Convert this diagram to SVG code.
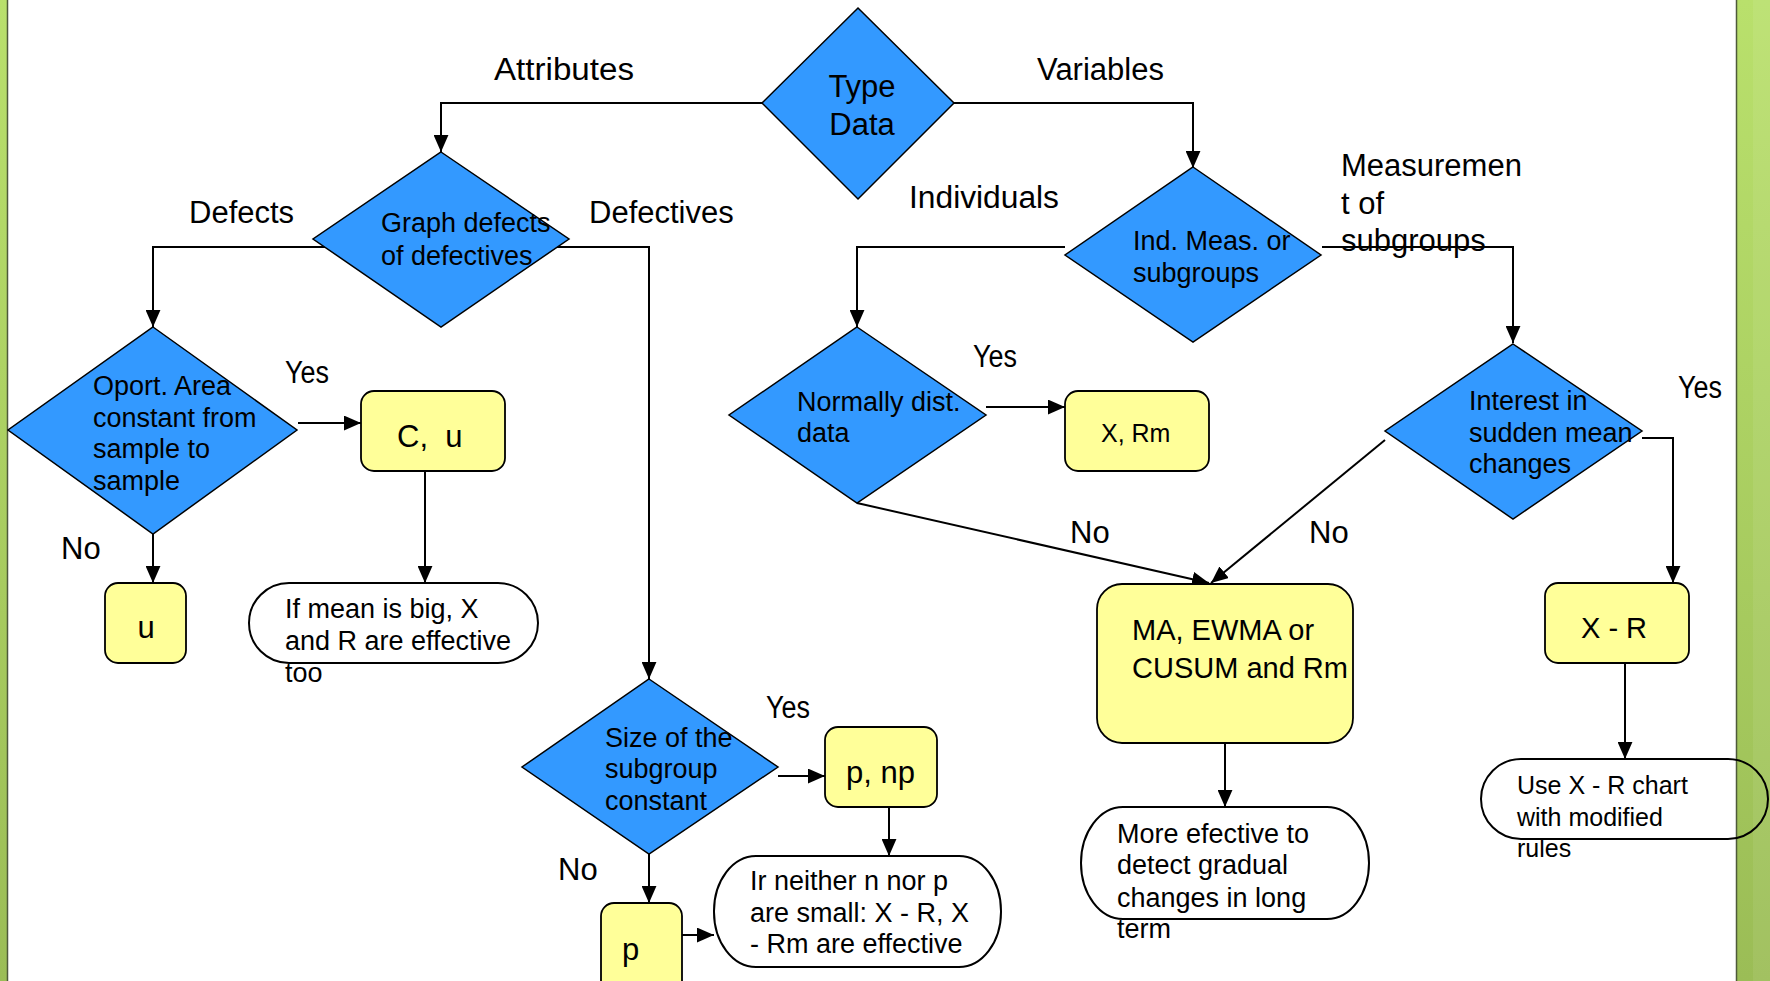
<svg xmlns="http://www.w3.org/2000/svg" width="1770" height="981" viewBox="0 0 1770 981">
<style>
text{font-family:"Liberation Sans",Arial,sans-serif;fill:#000}
.lbl{font-size:31px}
.dt{font-size:27px}
.bt{font-size:28px}
.st{font-size:27px}
.dia{fill:#3399FF;stroke:#000;stroke-width:1.5}
.box{fill:#FFFF99;stroke:#000;stroke-width:1.8}
.stad{fill:none;stroke:#000;stroke-width:2}
.con{fill:none;stroke:#000;stroke-width:2;marker-end:url(#arr)}
</style>
<defs>
<marker id="arr" viewBox="0 0 16 14" refX="16" refY="7" markerWidth="17" markerHeight="15" markerUnits="userSpaceOnUse" orient="auto">
<path d="M0,0 L16,7 L0,14 z" fill="#000"/>
</marker>
<linearGradient id="grn" x1="0" y1="0" x2="0" y2="1">
<stop offset="0" stop-color="#B9E06C"/>
<stop offset="1" stop-color="#9BBD56"/>
</linearGradient>
</defs>
<rect x="0" y="0" width="1770" height="981" fill="#fff"/>
<g id="background">
<rect x="0" y="0" width="8" height="981" fill="url(#grn)"/>
<line x1="7.5" y1="0" x2="7.5" y2="981" stroke="#4E5A3A" stroke-width="1.5"/>
<rect x="1736" y="0" width="34" height="981" fill="url(#grn)"/>
<rect x="1753" y="0" width="17" height="981" fill="#fff" opacity="0.07"/>
<line x1="1736.5" y1="0" x2="1736.5" y2="981" stroke="#4E5A3A" stroke-width="1.5"/>
</g>
<g id="connectors">
<path class="con" d="M762,103 H441 V152"/>
<path class="con" d="M954,103 H1193 V168"/>
<path class="con" d="M329,247 H153 V327"/>
<path class="con" d="M555,247 H649 V679"/>
<path class="con" d="M1065,247 H857 V327"/>
<path class="con" d="M1322,247 H1513 V343"/>
<path class="con" d="M298,423 H361"/>
<path class="con" d="M153,534 V583"/>
<path class="con" d="M425,471 V583"/>
<path class="con" d="M986,407 H1065"/>
<path class="con" d="M857,503 L1209,583"/>
<path class="con" d="M1385,440 L1211,583"/>
<path class="con" d="M1642,438 H1673 V583"/>
<path class="con" d="M1225,743 V807"/>
<path class="con" d="M1625,663 V759"/>
<path class="con" d="M778,776 H825"/>
<path class="con" d="M649,854 V903"/>
<path class="con" d="M889,807 V856"/>
<path class="con" d="M682,935 H714"/>
</g>
<g id="labels">
<text class="lbl" x="494" y="80" textLength="140" lengthAdjust="spacingAndGlyphs">Attributes</text>
<text class="lbl" x="1037" y="80">Variables</text>
<text class="lbl" x="189" y="223">Defects</text>
<text class="lbl" x="589" y="223">Defectives</text>
<text class="lbl" x="909" y="208" textLength="150" lengthAdjust="spacingAndGlyphs">Individuals</text>
<text class="lbl" x="1341" y="176">Measuremen</text>
<text class="lbl" x="1341" y="214">t of</text>
<text class="lbl" x="1341" y="251">subgroups</text>
<text class="lbl" x="285" y="383" textLength="44" lengthAdjust="spacingAndGlyphs">Yes</text>
<text class="lbl" x="61" y="559">No</text>
<text class="lbl" x="973" y="367" textLength="44" lengthAdjust="spacingAndGlyphs">Yes</text>
<text class="lbl" x="1070" y="543">No</text>
<text class="lbl" x="1309" y="543">No</text>
<text class="lbl" x="1678" y="398" textLength="44" lengthAdjust="spacingAndGlyphs">Yes</text>
<text class="lbl" x="766" y="718" textLength="44" lengthAdjust="spacingAndGlyphs">Yes</text>
<text class="lbl" x="558" y="880">No</text>
</g>
<g id="type-data">
<polygon class="dia" points="858,8 954,103 858,199 762,103"/>
<text x="862" y="97" font-size="31" text-anchor="middle">Type</text>
<text x="862" y="135" font-size="31" text-anchor="middle">Data</text>
</g>
<g id="graph-defects">
<polygon class="dia" points="441,152 569,239 441,327 313,239"/>
<text class="dt" x="381" y="232">Graph defects</text>
<text class="dt" x="381" y="265">of defectives</text>
</g>
<g id="oport-area">
<polygon class="dia" points="153,327 297,430 153,534 8,430"/>
<text class="dt" x="93" y="395">Oport. Area</text>
<text class="dt" x="93" y="427">constant from</text>
<text class="dt" x="93" y="458">sample to</text>
<text class="dt" x="93" y="490">sample</text>
</g>
<g id="ind-meas">
<polygon class="dia" points="1193,167 1321,255 1193,342 1065,255"/>
<text class="dt" x="1133" y="250">Ind. Meas. or</text>
<text class="dt" x="1133" y="282">subgroups</text>
</g>
<g id="normally-dist">
<polygon class="dia" points="857,327 986,415 857,503 729,415"/>
<text class="dt" x="797" y="411">Normally dist.</text>
<text class="dt" x="797" y="442">data</text>
</g>
<g id="interest-sudden">
<polygon class="dia" points="1513,344 1642,431 1513,519 1385,431"/>
<text class="dt" x="1469" y="410">Interest in</text>
<text class="dt" x="1469" y="442">sudden mean</text>
<text class="dt" x="1469" y="473">changes</text>
</g>
<g id="size-subgroup">
<polygon class="dia" points="649,679 778,767 649,854 522,767"/>
<text class="dt" x="605" y="747">Size of the</text>
<text class="dt" x="605" y="778">subgroup</text>
<text class="dt" x="605" y="810">constant</text>
</g>
<g id="c-u">
<rect class="box" x="361" y="391" width="144" height="80" rx="13"/>
<text x="397" y="447" xml:space="preserve" font-size="31">C,  u</text>
</g>
<g id="u">
<rect class="box" x="105" y="583" width="81" height="80" rx="13"/>
<text x="146" y="638" text-anchor="middle" font-size="31">u</text>
</g>
<g id="x-rm">
<rect class="box" x="1065" y="391" width="144" height="80" rx="13"/>
<text x="1101" y="442" font-size="25">X, Rm</text>
</g>
<g id="ma-ewma">
<rect class="box" x="1097" y="584" width="256" height="159" rx="25"/>
<text x="1132" y="640" font-size="29">MA, EWMA or</text>
<text x="1132" y="678" font-size="29">CUSUM and Rm</text>
</g>
<g id="x-r">
<rect class="box" x="1545" y="583" width="144" height="80" rx="13"/>
<text x="1581" y="638" font-size="29">X - R</text>
</g>
<g id="p-np">
<rect class="box" x="825" y="727" width="112" height="80" rx="13"/>
<text x="846" y="783" font-size="31">p, np</text>
</g>
<g id="p">
<rect class="box" x="601" y="903" width="81" height="100" rx="13"/>
<text x="622" y="960" font-size="31">p</text>
</g>
<g id="if-mean">
<rect class="stad" x="249" y="583" width="289" height="80" rx="40" ry="40"/>
<text class="st" x="285" y="618">If mean is big, X</text>
<text class="st" x="285" y="650">and R are effective</text>
<text class="st" x="285" y="682">too</text>
</g>
<g id="more-efective">
<rect class="stad" x="1081" y="807" width="288" height="112" rx="42" ry="56"/>
<text class="st" x="1117" y="843">More efective to</text>
<text class="st" x="1117" y="874">detect gradual</text>
<text class="st" x="1117" y="907">changes in long</text>
<text class="st" x="1117" y="938">term</text>
</g>
<g id="ir-neither">
<rect class="stad" x="714" y="856" width="287" height="111" rx="42" ry="55"/>
<text class="st" x="750" y="890">Ir neither n nor p</text>
<text class="st" x="750" y="922">are small: X - R, X</text>
<text class="st" x="750" y="953">- Rm are effective</text>
</g>
<g id="use-xr">
<rect class="stad" x="1481" y="759" width="287" height="80" rx="40" ry="40"/>
<text x="1517" y="794" font-size="25">Use X - R chart</text>
<text x="1517" y="826" font-size="25">with modified</text>
<text x="1517" y="857" font-size="25">rules</text>
</g>
</svg>
